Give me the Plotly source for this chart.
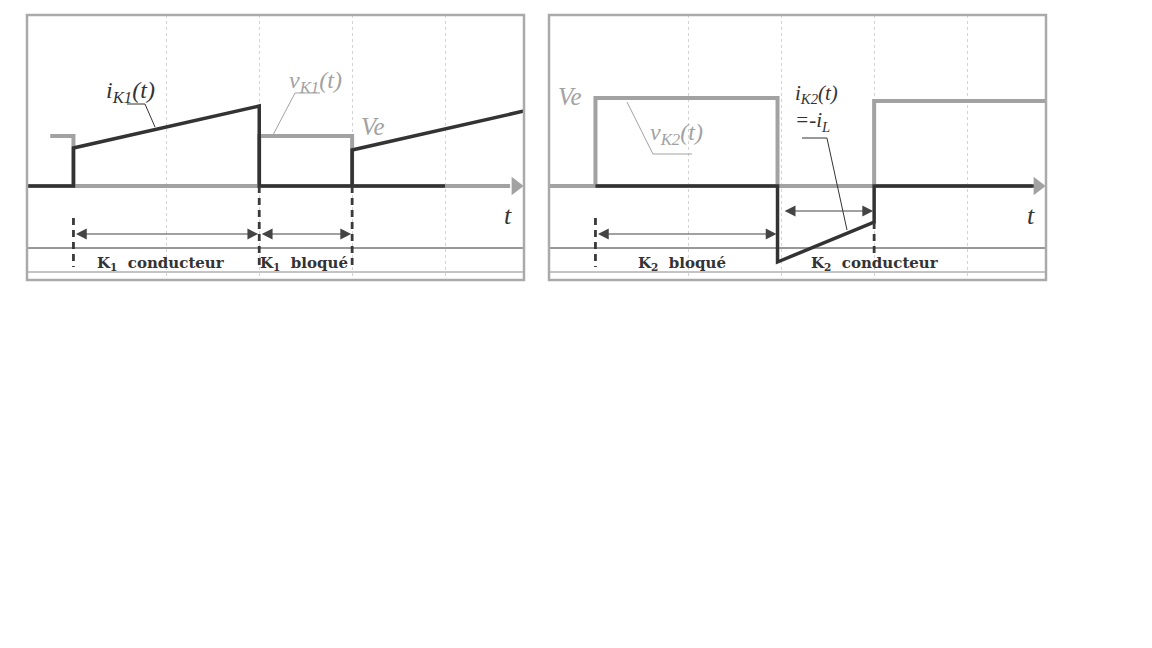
import plotly.graph_objects as go

# ---------------- data (time in grid units, amplitude in arbitrary units) ----------------
# Panel 1 : switch K1
t_v1 = [-0.25, 0.0, 0.0, 2.0, 2.0, 3.0, 3.0]
v_k1 = [1.0, 1.0, 0.0, 0.0, 1.0, 1.0, 0.0]
t_i1 = [-0.5, 0.0, 0.0, 2.0, 2.0, 3.0, 3.0, 4.85]
i_k1 = [0.0, 0.0, 0.76, 1.6, 0.0, 0.0, 0.72, 1.5]
t_base1 = [3.0, 4.0]
base1 = [0.0, 0.0]

# Panel 2 : switch K2
t_v2 = [-0.25, 0.0, 0.0, 1.96, 1.96, 3.0, 3.0, 4.85]
v_k2 = [0.0, 0.0, 1.76, 1.76, 0.0, 0.0, 1.7, 1.7]
t_i2 = [0.0, 1.96, 1.96, 3.0, 3.0, 4.75]
i_k2 = [0.0, 0.0, -1.52, -0.72, 0.0, 0.0]

# switching instants and interval labels
sw1 = [0.0, 2.0, 3.0]
sw2 = [0.0, 1.96, 3.0]
labels1 = ["K<sub>1</sub>  conducteur", "K<sub>1</sub>  bloqué"]
labels2 = ["K<sub>2</sub>  bloqué", "K<sub>2</sub>  conducteur"]
grid_ticks = [1, 2, 3, 4]

# ---------------- styling ----------------
GRAY = "#a2a2a2"
DARK = "#333333"
SERIF = "Liberation Serif, Times New Roman, serif"
BSERIF = "DejaVu Serif, Liberation Serif, serif"
XR = [-0.5, 4.85]
YR = [-1.88, 3.42]
OFF = 8  # page body margin of the browser

fig = go.Figure()

def axis_traces(xa, ya):
    fig.add_trace(go.Scatter(x=[XR[0], 4.7], y=[0, 0], mode="lines",
                             line=dict(color=GRAY, width=4), xaxis=xa, yaxis=ya,
                             hoverinfo="skip"))

def arrow_head(xa, ya):
    fig.add_trace(go.Scatter(x=[4.76], y=[0], mode="markers",
                             marker=dict(symbol="triangle-right", size=16, color=GRAY,
                                         line=dict(width=0)),
                             xaxis=xa, yaxis=ya, hoverinfo="skip"))

# ---- panel 1 ----
axis_traces("x", "y")
fig.add_trace(go.Scatter(x=t_v1, y=v_k1, mode="lines", line=dict(color=GRAY, width=4),
                         xaxis="x", yaxis="y", hoverinfo="skip"))
fig.add_trace(go.Scatter(x=t_i1, y=i_k1, mode="lines", line=dict(color=DARK, width=3.5),
                         xaxis="x", yaxis="y", hoverinfo="skip"))
fig.add_trace(go.Scatter(x=t_base1, y=base1, mode="lines", line=dict(color=DARK, width=3.5),
                         xaxis="x", yaxis="y", hoverinfo="skip"))
arrow_head("x", "y")

# ---- panel 2 ----
axis_traces("x2", "y2")
fig.add_trace(go.Scatter(x=t_v2, y=v_k2, mode="lines", line=dict(color=GRAY, width=4),
                         xaxis="x2", yaxis="y2", hoverinfo="skip"))
fig.add_trace(go.Scatter(x=t_i2, y=i_k2, mode="lines", line=dict(color=DARK, width=3.5),
                         xaxis="x2", yaxis="y2", hoverinfo="skip"))
arrow_head("x2", "y2")

# ---- dashed switching markers ----
def dash_marker(xa, ya, t, y0, y1):
    fig.add_trace(go.Scatter(x=[t, t], y=[y0, y1], mode="lines",
                             line=dict(color="#3a3a3a", width=2.8, dash="7px,5px"),
                             xaxis=xa, yaxis=ya, hoverinfo="skip"))

dash_marker("x", "y", sw1[0], -0.64, -1.62)
dash_marker("x", "y", sw1[1], 0.0, -1.64)
dash_marker("x", "y", sw1[2], 0.0, -1.64)
dash_marker("x2", "y2", sw2[0], -0.64, -1.62)
dash_marker("x2", "y2", sw2[2], -0.72, -1.4)

shapes = []
annotations = []

def panel_frame(xr, yr):
    xd = xr + " domain"
    yd = yr + " domain"
    shapes.append(dict(type="line", xref=xd, yref=yr, x0=0, x1=1, y0=-1.24, y1=-1.24,
                       line=dict(color="#333333", width=1)))
    shapes.append(dict(type="line", xref=xd, yref=yr, x0=0, x1=1, y0=-1.72, y1=-1.72,
                       line=dict(color="#b0b0b0", width=1.5)))
    shapes.append(dict(type="rect", xref=xd, yref=yd, x0=0, x1=1, y0=0, y1=1,
                       line=dict(color="#aaaaaa", width=2.5)))

panel_frame("x", "y")
panel_frame("x2", "y2")

def dbl_arrow(xr, yr, a, b, y):
    annotations.append(dict(xref=xr, yref=yr, axref=xr, ayref=yr, x=b, y=y, ax=a, ay=y,
                            text="", showarrow=True, arrowside="end+start",
                            arrowhead=2, startarrowhead=2, arrowsize=1.8,
                            startarrowsize=1.8, arrowwidth=1.2, arrowcolor="#444444",
                            standoff=1, startstandoff=1))

dbl_arrow("x", "y", sw1[0], sw1[1], -0.96)
dbl_arrow("x", "y", sw1[1], sw1[2], -0.96)
dbl_arrow("x2", "y2", sw2[0], sw2[1], -0.96)
dbl_arrow("x2", "y2", 2.01, sw2[2], -0.5)

def label(xr, yr, x, y, text, size=20, color=DARK, bold=False, family=SERIF,
          xanchor="center", align="center"):
    annotations.append(dict(xref=xr, yref=yr, x=x, y=y, text=text, showarrow=False,
                            xanchor=xanchor, yanchor="middle", align=align,
                            font=dict(family=family, size=size, color=color,
                                      weight="bold" if bold else "normal")))

# interval labels
label("x", "y", 0.94, -1.54, labels1[0], size=15, bold=True, family=BSERIF)
label("x", "y", 2.48, -1.54, labels1[1], size=15, bold=True, family=BSERIF)
label("x2", "y2", 0.93, -1.54, labels2[0], size=15, bold=True, family=BSERIF)
label("x2", "y2", 3.01, -1.54, labels2[1], size=15, bold=True, family=BSERIF)

# signal labels
label("x", "y", 0.61, 1.88, "<i>i<sub>K1</sub>(t)</i>", size=24, color=DARK)
label("x", "y", 2.61, 2.08, "<i>v<sub>K1</sub>(t)</i>", size=24, color=GRAY)
label("x", "y", 3.22, 1.2, "<i>Ve</i>", size=25, color=GRAY)
label("x", "y", 4.68, -0.58, "<i>t</i>", size=26, color=DARK)

label("x2", "y2", -0.27, 1.8, "<i>Ve</i>", size=25, color=GRAY)
label("x2", "y2", 0.87, 1.04, "<i>v<sub>K2</sub>(t)</i>", size=24, color=GRAY)
label("x2", "y2", 2.13, 1.56, "<i>i<sub>K2</sub>(t)</i><br><i>=-i<sub>L</sub></i>",
      size=21, color=DARK, xanchor="left", align="left")
label("x2", "y2", 4.69, -0.58, "<i>t</i>", size=26, color=DARK)

# leader lines
def leader(xa, ya, xs, ys, color):
    fig.add_trace(go.Scatter(x=xs, y=ys, mode="lines", line=dict(color=color, width=1),
                             xaxis=xa, yaxis=ya, hoverinfo="skip"))

leader("x", "y", [0.576, 0.77, 0.878], [1.64, 1.64, 1.18], DARK)
leader("x", "y", [2.654, 2.385, 2.148], [1.86, 1.86, 1.02], GRAY)
leader("x2", "y2", [0.34, 0.619, 1.039], [1.68, 0.64, 0.64], GRAY)
leader("x2", "y2", [2.223, 2.492, 2.708], [0.96, 0.96, -0.88], DARK)

W, H = 1152, 648
ydom = [1 - (280 - OFF) / H, 1 - (15 - OFF) / H]
common_x = dict(range=XR, tickvals=grid_ticks, showticklabels=False, ticks="",
                showgrid=True, gridcolor="#d4d4d4", gridwidth=1, griddash="dot",
                zeroline=False, showline=False, fixedrange=True)
common_y = dict(range=YR, showgrid=False, zeroline=False, showticklabels=False,
                ticks="", showline=False, fixedrange=True, domain=ydom)

fig.update_layout(
    width=W, height=H,
    margin=dict(l=0, r=0, t=0, b=0),
    paper_bgcolor="white", plot_bgcolor="white",
    showlegend=False,
    xaxis=dict(domain=[(27 - OFF) / W, (524 - OFF) / W], anchor="y", **common_x),
    yaxis=dict(anchor="x", **common_y),
    xaxis2=dict(domain=[(549 - OFF) / W, (1046 - OFF) / W], anchor="y2", **common_x),
    yaxis2=dict(anchor="x2", **common_y),
    shapes=shapes,
    annotations=annotations,
)

fig.write_html("out.html")
